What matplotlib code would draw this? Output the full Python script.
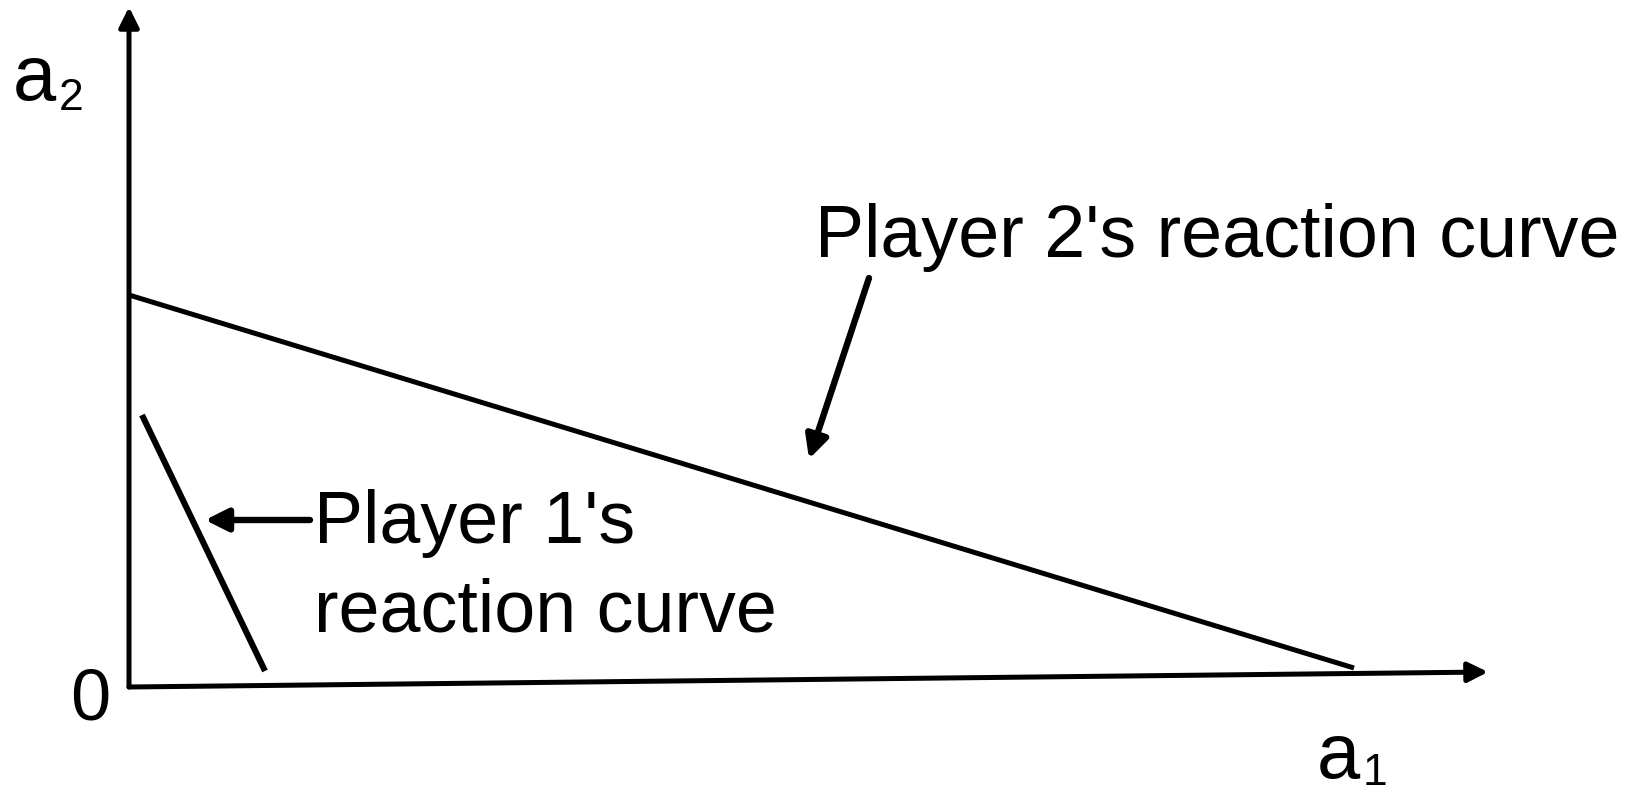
import matplotlib
matplotlib.use('Agg')
import numpy as np
from matplotlib import pyplot as plt

plt.rcParams['font.family'] = ['Liberation Sans', 'DejaVu Sans']

# schematic coordinates (origin at 0,0)
axis_x = [0.0, 13.59]          # a1 axis, slightly tilted
axis_x_y = [0.0, 0.15]
axis_y = [0.0, 6.80]           # a2 axis
p2_x = [0.0, 12.25]            # player 2 reaction curve
p2_y = [3.92, 0.19]
p1_x = [0.13, 1.36]            # player 1 reaction curve
p1_y = [2.72, 0.16]
p1_arrow = [(1.81, 1.67), (0.76, 1.67)]   # tail, tip
p2_arrow = [(7.40, 4.09), (6.80, 2.28)]

fig = plt.figure(figsize=(16.43, 7.95), dpi=100)
ax = fig.add_axes([0, 0, 1, 1])
ax.set_xlim(-1.29, 15.14)
ax.set_ylim(-1.08, 6.87)
ax.axis('off')

lw = 3.6
# axes with arrow heads
ax.annotate('', xy=(axis_x[1], axis_x_y[1]), xytext=(axis_x[0], axis_x_y[0]),
            arrowprops=dict(arrowstyle='-|>', lw=lw, color='black',
                            mutation_scale=30, shrinkA=0, shrinkB=0))
ax.annotate('', xy=(0, axis_y[1]), xytext=(0, axis_y[0]),
            arrowprops=dict(arrowstyle='-|>', lw=lw, color='black',
                            mutation_scale=30, shrinkA=0, shrinkB=0))

ax.plot(p2_x, p2_y, color='black', lw=lw, solid_capstyle='butt')
ax.plot(p1_x, p1_y, color='black', lw=lw + 0.8, solid_capstyle='butt')

for tail, tip in [p1_arrow, p2_arrow]:
    ax.annotate('', xy=tip, xytext=tail,
                arrowprops=dict(arrowstyle='-|>', lw=lw + 1.0, color='black',
                                mutation_scale=34, shrinkA=0, shrinkB=0))

fs = 53
ax.text(6.86, 4.30, "Player 2's reaction curve", fontsize=fs, va='baseline')
ax.text(1.85, 1.44, "Player 1's", fontsize=fs, va='baseline')
ax.text(1.85, 0.55, "reaction curve", fontsize=fs, va='baseline')
ax.text(-0.19, -0.32, "0", fontsize=52, va='baseline', ha='right')
ax.text(-1.16, 5.87, "a", fontsize=56, va='baseline')
ax.text(-0.70, 5.77, "2", fontsize=32, va='baseline')
ax.text(11.88, -0.91, "a", fontsize=56, va='baseline')
ax.text(12.34, -0.98, "1", fontsize=32, va='baseline')

plt.savefig('out.png', dpi=100)
